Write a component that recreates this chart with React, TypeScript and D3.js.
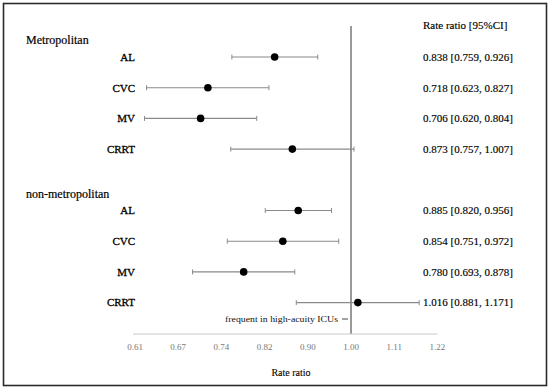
import React from "react";
import * as d3 from "d3";

const groups = ["Metropolitan", "non-metropolitan"];
const measures = ["AL", "CVC", "MV", "CRRT"];
const metroEst = [0.838, 0.718, 0.706, 0.873];
const metroLow = [0.759, 0.623, 0.62, 0.757];
const metroHigh = [0.926, 0.827, 0.804, 1.007];
const nonMetroEst = [0.885, 0.854, 0.78, 1.016];
const nonMetroLow = [0.82, 0.751, 0.693, 0.881];
const nonMetroHigh = [0.956, 0.972, 0.878, 1.171];
const tickLabels = ["0.61", "0.67", "0.74", "0.82", "0.90", "1.00", "1.11", "1.22"];
const tickLogs = [-0.5, -0.4, -0.3, -0.2, -0.1, 0, 0.1, 0.2];

const font = "'Liberation Serif', 'Times New Roman', serif";
const fmt = d3.format(".3f");

export default function App() {
  const x = d3.scaleLog().domain([Math.exp(-0.5), Math.exp(0.2)]).range([135, 437.4]);
  const y = d3.scaleLinear().domain([0, 8]).range([57, 302.6]);

  const rows: { label: string; est: number; lo: number; hi: number; idx: number }[] = [];
  measures.forEach((m, i) => rows.push({ label: m, est: metroEst[i], lo: metroLow[i], hi: metroHigh[i], idx: i }));
  measures.forEach((m, i) => rows.push({ label: m, est: nonMetroEst[i], lo: nonMetroLow[i], hi: nonMetroHigh[i], idx: i + 5 }));

  const axisY = 334;
  const x1 = x(1);
  const heavy = { stroke: "#000", strokeWidth: 0.15, fill: "#000" };

  return (
    <svg width={550} height={389} style={{ position: "absolute", left: 0, top: 0, background: "#fff" }} fontFamily={font}>
      <rect x={3.5} y={3.5} width={543} height={382} fill="#fff" stroke="#2b2b2b" strokeWidth={1.6} />
      {groups.map((g, gi) => (
        <text key={g} x={26} y={y(gi * 5) - 17} dy="0.35em" fontSize={12} {...heavy} strokeWidth={0.2}>
          {g}
        </text>
      ))}
      <text x={423} y={25} dy="0.35em" fontSize={11} {...heavy}>
        Rate ratio [95%CI]
      </text>
      <line x1={x1} x2={x1} y1={26} y2={axisY} stroke="#555" strokeWidth={1.2} />
      <line x1={x.range()[0] - 2} x2={x.range()[1]} y1={axisY} y2={axisY} stroke="#c8c8c8" strokeWidth={1} />
      {tickLogs.map((t, i) => (
        <text key={i} x={x(Math.exp(t))} y={347} dy="0.35em" textAnchor="middle" fontSize={9} fill="#777">
          {tickLabels[i]}
        </text>
      ))}
      <text x={291} y={372} dy="0.35em" textAnchor="middle" fontSize={10} {...heavy} strokeWidth={0.1}>
        Rate ratio
      </text>
      <text x={338} y={319} dy="0.35em" textAnchor="end" fontSize={8.5} fill="#111" textLength={113} lengthAdjust="spacingAndGlyphs">
        frequent in high-acuity ICUs
      </text>
      <line x1={342} x2={348} y1={319} y2={319} stroke="#444" strokeWidth={1} />
      {rows.map((r, i) => {
        const cy = y(r.idx);
        return (
          <g key={i}>
            <text x={135} y={cy} dy="0.35em" textAnchor="end" fontSize={11} {...heavy} strokeWidth={0.3}>
              {r.label}
            </text>
            <line x1={x(r.lo)} x2={x(r.hi)} y1={cy} y2={cy} stroke="#8a8a8a" strokeWidth={1.1} />
            <line x1={x(r.lo)} x2={x(r.lo)} y1={cy - 2.5} y2={cy + 2.5} stroke="#8a8a8a" strokeWidth={1} />
            <line x1={x(r.hi)} x2={x(r.hi)} y1={cy - 2.5} y2={cy + 2.5} stroke="#8a8a8a" strokeWidth={1} />
            <circle cx={x(r.est)} cy={cy} r={3.8} fill="#000" />
            <text x={423} y={cy} dy="0.35em" fontSize={11} {...heavy}>
              {`${fmt(r.est)} [${fmt(r.lo)}, ${fmt(r.hi)}]`}
            </text>
          </g>
        );
      })}
    </svg>
  );
}
